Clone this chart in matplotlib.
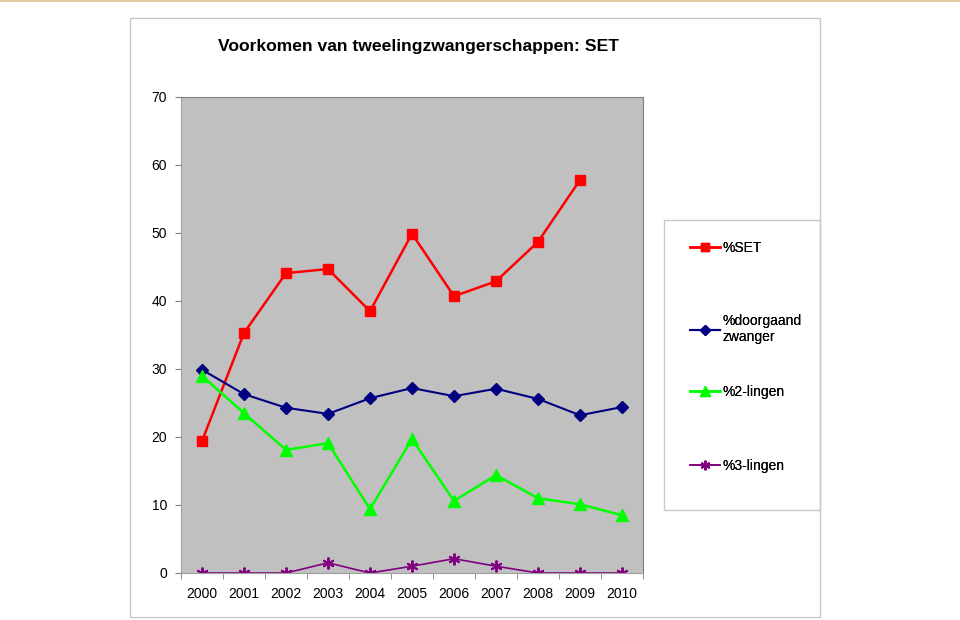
import numpy as np
import matplotlib
matplotlib.use("Agg")
import matplotlib.pyplot as plt
from matplotlib.patches import Rectangle
from matplotlib.lines import Line2D

plt.rcParams['font.family'] = ['Liberation Sans', 'DejaVu Sans']

years = ['2000', '2001', '2002', '2003', '2004', '2005', '2006', '2007', '2008', '2009', '2010']
pct_set = [19.4, 35.3, 44.1, 44.7, 38.5, 49.9, 40.7, 42.9, 48.7, 57.8, np.nan]
pct_doorgaand = [29.9, 26.3, 24.3, 23.4, 25.7, 27.2, 26.0, 27.1, 25.6, 23.2, 24.4]
pct_2lingen = [29.0, 23.5, 18.1, 19.1, 9.4, 19.7, 10.6, 14.4, 11.0, 10.1, 8.5]
pct_3lingen = [0.0, 0.0, 0.0, 1.5, 0.0, 1.0, 2.1, 1.0, 0.0, 0.0, 0.0]

fig = plt.figure(figsize=(9.6, 6.2), dpi=100)
W, H = 960, 620

# outer chart frame
fig.patches.append(Rectangle((130 / W, 1 - 617 / H), 690 / W, 599 / H, transform=fig.transFigure,
                             fill=False, edgecolor='#c8c8c8', lw=1))
# thin line at top of the page
fig.lines.append(Line2D([0, 1], [1 - 0.8 / H, 1 - 0.8 / H], transform=fig.transFigure,
                        color='#e8c8a0', lw=1.5))

ax = fig.add_axes([181 / W, 1 - 573 / H, 462 / W, 476 / H])
ax.set_facecolor('#c0c0c0')
x = np.arange(len(years))

l1, = ax.plot(x, pct_set, color='#ff0000', lw=1.8, marker='s', ms=7, label='%SET')
l2, = ax.plot(x, pct_doorgaand, color='#000080', lw=1.5, marker='D', ms=6.5, label='%doorgaand\nzwanger')
l3, = ax.plot(x, pct_2lingen, color='#00ff00', lw=1.8, marker='^', ms=8.5, label='%2-lingen')
l4, = ax.plot(x, pct_3lingen, color='#800080', lw=1.2, marker=(6, 2, 0), ms=8.5, mew=1.4, label='%3-lingen')

ax.set_xlim(-0.5, len(years) - 0.5)
ax.set_ylim(0, 70)
ax.set_yticks(range(0, 71, 10))
ax.set_xticks(x)
ax.set_xticklabels(years)
ax.set_xticks(np.arange(-0.5, len(years), 1), minor=True)
ax.tick_params(axis='x', which='major', length=0, pad=10, labelsize=10)
ax.tick_params(axis='x', which='minor', length=4, color='#808080')
ax.tick_params(axis='y', length=4, color='#808080', pad=6, labelsize=10)
for s in ax.spines.values():
    s.set_color('#808080')
ax.spines['left'].set_color('#a0a0a0')
ax.spines['bottom'].set_color('#a0a0a0')

fig.text(419 / W, 1 - 46 / H, 'Voorkomen van tweelingzwangerschappen: SET',
         ha='center', va='center', fontsize=12.6, fontweight='bold')

# legend box
fig.patches.append(Rectangle((664 / W, 1 - 510 / H), 156 / W, 290 / H, transform=fig.transFigure,
                             fill=False, edgecolor='#c8c8c8', lw=1))
for line, ypix in zip([l1, l2, l3, l4], [248, 329, 392, 466]):
    leg = fig.legend(handles=[line], loc='center left', bbox_to_anchor=(684 / W, 1 - ypix / H),
                     frameon=False, fontsize=10, handlelength=2.2, handletextpad=0.2,
                     borderaxespad=0, markerscale=0.8)
    fig.add_artist(leg)

fig.savefig('out.png', dpi=100)
